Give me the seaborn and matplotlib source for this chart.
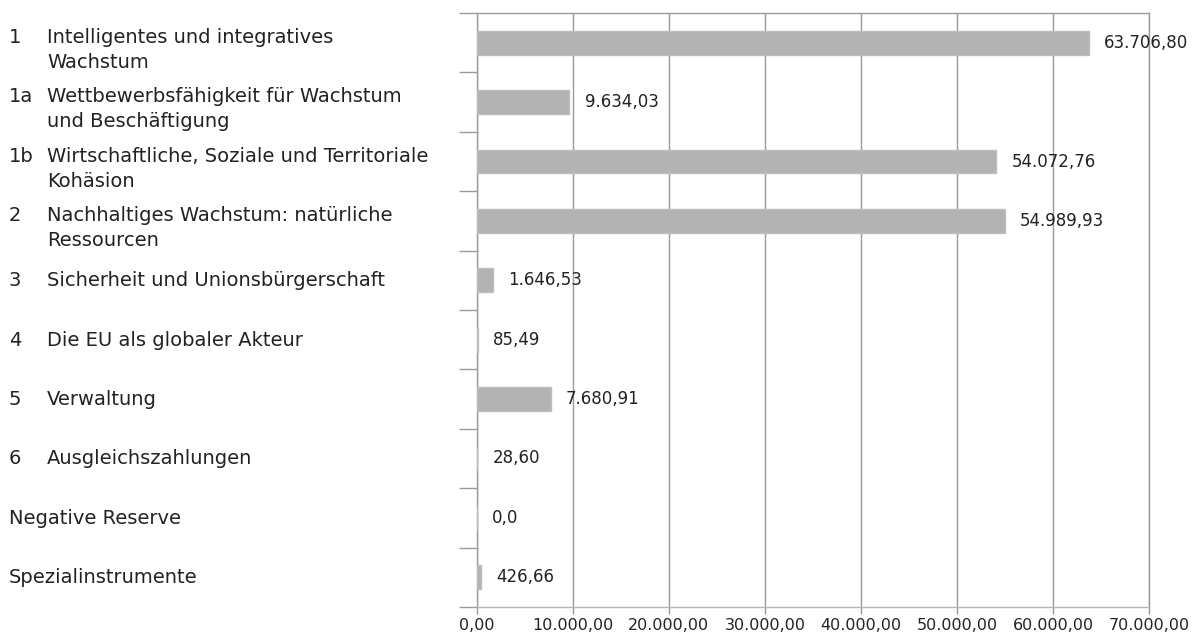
import matplotlib
matplotlib.use("Agg")
import matplotlib.pyplot as plt
import matplotlib.transforms as mtransforms
import seaborn as sns
import pandas as pd

codes = ["1", "1a", "1b", "2", "3", "4", "5", "6", "", ""]
names = [
    "Intelligentes und integratives\nWachstum",
    "Wettbewerbsfähigkeit für Wachstum\nund Beschäftigung",
    "Wirtschaftliche, Soziale und Territoriale\nKohäsion",
    "Nachhaltiges Wachstum: natürliche\nRessourcen",
    "Sicherheit und Unionsbürgerschaft",
    "Die EU als globaler Akteur",
    "Verwaltung",
    "Ausgleichszahlungen",
    "Negative Reserve",
    "Spezialinstrumente",
]
values = [63706.80, 9634.03, 54072.76, 54989.93, 1646.53, 85.49, 7680.91, 28.60, 0.0, 426.66]
xticks = [0, 10000, 20000, 30000, 40000, 50000, 60000, 70000]


def de(v, dec=2):
    s = f"{v:,.{dec}f}"
    return s.replace(",", "X").replace(".", ",").replace("X", ".")


sns.set_theme(style="white")
plt.rcParams["font.family"] = ["DejaVu Sans"]

df = pd.DataFrame({"cat": [f"{c}|{n}" for c, n in zip(codes, names)], "val": values})

fig = plt.figure(figsize=(11.94, 6.38), dpi=100)
ax = fig.add_axes([0.3993, 0.0486, 0.9623 - 0.3993, 0.9796 - 0.0486])

sns.barplot(data=df, y="cat", x="val", orient="h", color="#b3b3b3",
            saturation=1, width=0.4, ax=ax, zorder=3,
            edgecolor="#bdbdbd", linewidth=1)

ax.set_xlim(0, 70000)
ax.set_ylim(len(values) - 0.5, -0.5)
ax.set_xlabel("")
ax.set_ylabel("")

gray = "#9a9a9a"
txt = "#222222"
ax.set_xticks(xticks)
ax.set_xticklabels([de(v) for v in xticks], fontsize=11.5, color=txt)
ax.xaxis.grid(True, color=gray, linewidth=1, zorder=0)
ax.set_axisbelow(True)

ax.set_yticks([i - 0.5 for i in range(len(values) + 1)])
ax.set_yticklabels([])
ax.tick_params(axis="y", which="both", length=13, width=1, color=gray, direction="out", left=True)
ax.tick_params(axis="x", which="both", length=5, width=1, color=gray, direction="out", bottom=True, pad=3)

for side in ["left", "top", "bottom", "right"]:
    ax.spines[side].set_visible(True)
    ax.spines[side].set_color(gray)
    ax.spines[side].set_linewidth(1)
ax.spines["bottom"].set_color("#b5b5b5")

labels = [de(v) if v != 0 else "0,0" for v in values]
ax.bar_label(ax.containers[0], labels=labels, padding=11, fontsize=12, color=txt)

trans = mtransforms.blended_transform_factory(fig.transFigure, ax.transData)
line_step = 25 / 59.4
for i, (c, n) in enumerate(zip(codes, names)):
    lines = n.split("\n")
    if len(lines) > 1:
        y0 = i + 0.0
    else:
        y0 = i + 0.1
    xname = 47 / 1194 if c else 9 / 1194
    if c:
        ax.text(9 / 1194, y0, c, transform=trans, ha="left", va="baseline",
                fontsize=14, color=txt)
    for k, ln in enumerate(lines):
        ax.text(xname, y0 + k * line_step, ln, transform=trans, ha="left",
                va="baseline", fontsize=14, color=txt)

fig.savefig("out.png", dpi=100)
